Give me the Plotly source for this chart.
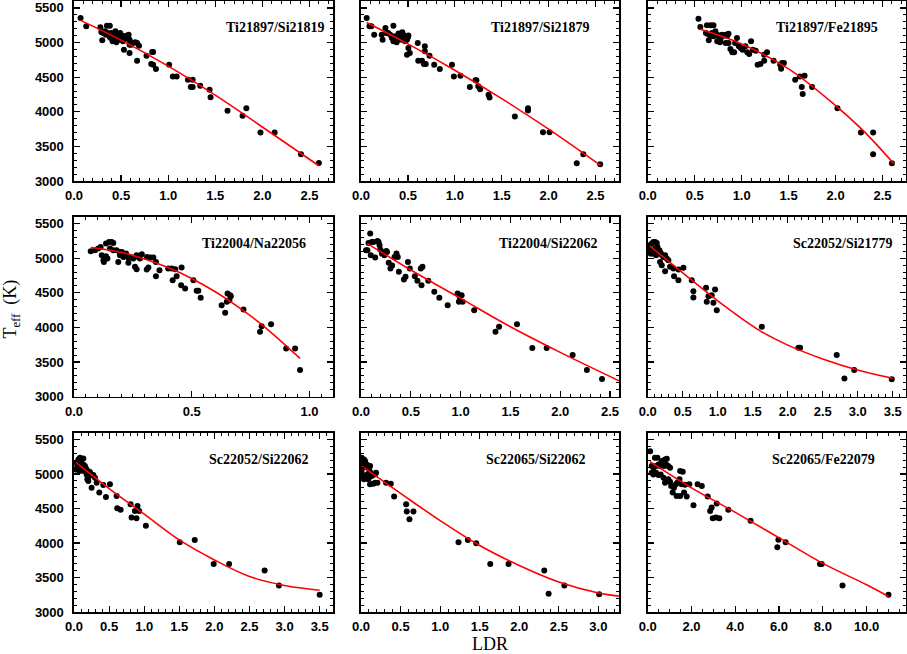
import plotly.graph_objects as go

# ---------------- data ----------------
labels = ["Ti21897/Si21819", "Ti21897/Si21879", "Ti21897/Fe21895",
          "Ti22004/Na22056", "Ti22004/Si22062", "Sc22052/Si21779",
          "Sc22052/Si22062", "Sc22065/Si22062", "Sc22065/Fe22079"]

ldr_1 = [0.07, 0.13, 0.28, 0.29, 0.30, 0.31, 0.33, 0.34, 0.35, 0.36, 0.38, 0.38, 0.39, 0.40, 0.41, 0.43, 0.44, 0.45, 0.45, 0.46,
         0.47, 0.48, 0.49, 0.51, 0.52, 0.52, 0.53, 0.54, 0.56, 0.57, 0.58, 0.59, 0.59, 0.60, 0.61, 0.59, 0.65, 0.67, 0.69, 0.67,
         0.77, 0.83, 0.84, 0.82, 0.84, 0.87, 1.01, 1.05, 1.09, 1.21, 1.24, 1.26, 1.26, 1.34, 1.44, 1.45, 1.63, 1.79, 1.83, 1.98,
         2.13, 2.41, 2.60]
teff_1 = [5355, 5234, 5220, 5152, 5032, 5138, 5162, 5114, 5244, 5138, 5244, 5080, 5065, 5138, 5017, 5099, 5162, 5051, 5003, 5114,
          5080, 5041, 5138, 5065, 5017, 5099, 4897, 5051, 5099, 5080, 5114, 5041, 4848, 5003, 4969, 4969, 5003, 4737, 4955, 4993,
          4810, 4863, 4863, 4689, 4679, 4617, 4679, 4511, 4511, 4462, 4356, 4356, 4462, 4375, 4318, 4211, 4013, 3941, 4052, 3700,
          3700, 3386, 3260]
fit_ldr_1 = [0.07, 0.5, 1.0, 1.5, 2.0, 2.6]
fit_teff_1 = [5320, 5035, 4660, 4240, 3780, 3220]

ldr_2 = [0.06, 0.09, 0.11, 0.14, 0.23, 0.22, 0.26, 0.27, 0.29, 0.31, 0.345, 0.33, 0.36, 0.38, 0.42, 0.43, 0.45, 0.47, 0.49, 0.505,
         0.47, 0.345, 0.38, 0.40, 0.44, 0.50, 0.49, 0.52, 0.505, 0.605, 0.61, 0.65, 0.68, 0.68, 0.67, 0.69, 0.73, 0.78, 0.84, 0.97,
         0.99, 1.06, 1.16, 1.22, 1.23, 1.25, 1.27, 1.36, 1.37, 1.64, 1.78, 1.78, 1.94, 2.01, 2.30, 2.37, 2.55]
teff_2 = [5355, 5234, 5234, 5114, 5041, 5114, 5210, 5138, 5138, 5114, 5244, 5066, 5090, 5042, 5090, 5042, 5114, 5066, 5042, 5100,
          5017, 5017, 5003, 5130, 5150, 5075, 4824, 4848, 4921, 4993, 4737, 4737, 4945, 4873, 4689, 4689, 4810, 4679, 4617, 4679,
          4511, 4520, 4356, 4457, 4457, 4370, 4327, 4245, 4206, 3931, 4052, 4018, 3705, 3705, 3256, 3386, 3241]
fit_ldr_2 = [0.06, 0.5, 1.0, 1.5, 2.0, 2.55]
fit_teff_2 = [5290, 4980, 4600, 4190, 3750, 3230]

ldr_3 = [0.54, 0.56, 0.63, 0.67, 0.70, 0.62, 0.64, 0.65, 0.667, 0.685, 0.70, 0.72, 0.74, 0.756, 0.774, 0.79, 0.81, 0.83, 0.845, 0.86,
         0.74, 0.77, 0.83, 0.86, 0.88, 0.90, 0.92, 0.93, 0.95, 0.97, 0.99, 1.01, 1.04, 1.06, 1.08, 1.10, 1.12, 1.15, 1.17, 1.20,
         1.24, 1.24, 1.27, 1.34, 1.41, 1.43, 1.42, 1.45, 1.57, 1.62, 1.67, 1.64, 1.65, 1.75, 2.02, 2.27, 2.40, 2.40, 2.60]
teff_3 = [5345, 5225, 5249, 5249, 5249, 5138, 5123, 5032, 5099, 5138, 5090, 5162, 5114, 5090, 5051, 5114, 5099, 5114, 5099, 5128,
          5017, 5003, 4993, 4993, 4906, 4858, 4858, 4993, 5066, 4945, 4921, 4897, 4945, 4858, 4834, 5017, 4897, 4882, 4679, 4689,
          4737, 4824, 4858, 4737, 4679, 4703, 4622, 4703, 4462, 4511, 4520, 4356, 4255, 4356, 4052, 3700, 3700, 3386, 3256]
fit_ldr_3 = [0.55, 1.0, 1.5, 2.0, 2.3, 2.62]
fit_teff_3 = [5195, 4980, 4620, 4090, 3720, 3250]

ldr_4 = [0.071, 0.089, 0.103, 0.113, 0.118, 0.125, 0.127, 0.136, 0.142, 0.136, 0.149, 0.160, 0.167, 0.153, 0.167, 0.181, 0.195, 0.203, 0.21, 0.195,
         0.21, 0.221, 0.231, 0.245, 0.252, 0.266, 0.28, 0.188, 0.231, 0.259, 0.266, 0.273, 0.288, 0.309, 0.316, 0.31, 0.324, 0.337, 0.348, 0.348,
         0.363, 0.40, 0.415, 0.43, 0.419, 0.436, 0.457, 0.455, 0.472, 0.507, 0.521, 0.528, 0.538, 0.627, 0.642, 0.649, 0.652, 0.663, 0.666, 0.660,
         0.720, 0.790, 0.797, 0.837, 0.901, 0.939, 0.960]
teff_4 = [5101, 5115, 5139, 5163, 5043, 4971, 4947, 5029, 4995, 5212, 5236, 5236, 5221, 5139, 5115, 5115, 5091, 5091, 5067, 5043,
          5019, 5067, 5010, 5010, 4995, 5043, 4995, 4947, 4933, 4875, 4841, 5019, 5058, 4837, 4865, 5019, 5010, 5010, 4947, 4740,
          4827, 4851, 4851, 4841, 4683, 4740, 4865, 4610, 4563, 4683, 4529, 4529, 4428, 4322, 4212, 4370, 4490, 4466, 4452, 4394,
          4260, 3938, 4019, 4048, 3697, 3697, 3385]
fit_ldr_4 = [0.071, 0.2, 0.3, 0.4, 0.5, 0.6, 0.7, 0.8, 0.96]
fit_teff_4 = [5155, 5085, 4990, 4865, 4707, 4515, 4290, 4035, 3553]

ldr_5 = [0.092, 0.064, 0.05, 0.075, 0.108, 0.125, 0.098, 0.142, 0.166, 0.176, 0.186, 0.193, 0.22, 0.244, 0.254, 0.21, 0.234, 0.261, 0.278, 0.295,
         0.312, 0.336, 0.356, 0.369, 0.38, 0.43, 0.447, 0.471, 0.49, 0.54, 0.566, 0.60, 0.617, 0.607, 0.675, 0.736, 0.786, 0.87, 0.97, 0.99,
         1.01, 0.983, 1.02, 1.136, 1.35, 1.386, 1.566, 1.72, 1.864, 2.125, 2.268, 2.42]
teff_5 = [5356, 5115, 5115, 5221, 5236, 5236, 5043, 5010, 5250, 5236, 5188, 5125, 5091, 5077, 5106, 5067, 5043, 5091, 4933, 4851,
          4894, 5019, 5067, 5019, 4803, 4692, 4731, 4947, 4851, 4740, 4673, 4851, 4875, 4611, 4673, 4514, 4428, 4322, 4490, 4442,
          4466, 4370, 4370, 4250, 3938, 4010, 4048, 3702, 3702, 3601, 3385, 3255]
fit_ldr_5 = [0.06, 0.5, 1.0, 1.5, 2.0, 2.59]
fit_teff_5 = [5215, 4830, 4420, 4010, 3640, 3230]

ldr_6 = [0.033, 0.057, 0.081, 0.105, 0.129, 0.071, 0.105, 0.138, 0.167, 0.186, 0.205, 0.224, 0.248, 0.271, 0.295, 0.119, 0.152, 0.024, 0.043, 0.09,
         0.176, 0.2, 0.248, 0.319, 0.367, 0.376, 0.438, 0.438, 0.51, 0.629, 0.652, 0.652, 0.833, 0.843, 0.867, 0.914, 0.938, 0.962, 0.986, 1.63,
         2.152, 2.176, 2.70, 2.81, 2.95, 3.486]
teff_6 = [5115, 5212, 5236, 5236, 5221, 5067, 5139, 5163, 5115, 5077, 5043, 5019, 5043, 4995, 4971, 5043, 5067, 5188, 5067, 5115,
          4947, 4899, 4813, 4875, 4851, 4740, 4837, 4683, 4861, 4683, 4524, 4433, 4572, 4370, 4452, 4466, 4356, 4548, 4250, 4010,
          3707, 3707, 3601, 3264, 3385, 3250]
fit_ldr_6 = [0.03, 0.5, 1.0, 1.6, 2.0, 2.5, 3.0, 3.5]
fit_teff_6 = [5175, 4790, 4385, 3955, 3745, 3545, 3385, 3265]

ldr_7 = [0.038, 0.062, 0.085, 0.109, 0.133, 0.028, 0.047, 0.076, 0.1, 0.133, 0.156, 0.171, 0.19, 0.204, 0.227, 0.251, 0.275, 0.299, 0.076, 0.109,
         0.142, 0.18, 0.218, 0.19, 0.204, 0.251, 0.322, 0.36, 0.417, 0.455, 0.512, 0.607, 0.616, 0.664, 0.806, 0.82, 0.867, 0.89, 0.905, 0.929,
         1.024, 1.507, 1.72, 1.99, 2.21, 2.716, 2.92, 3.50]
teff_7 = [5163, 5212, 5236, 5212, 5226, 5067, 5115, 5091, 5139, 5139, 5115, 5082, 5053, 5019, 5029, 4995, 4986, 4947, 5043, 5053,
          5043, 4995, 4971, 4923, 4899, 4803, 4875, 4731, 4841, 4668, 4851, 4683, 4505, 4481, 4563, 4370, 4466, 4361, 4538, 4466,
          4250, 4010, 4043, 3697, 3697, 3601, 3385, 3250]
fit_ldr_7 = [0.03, 0.5, 1.0, 1.5, 2.0, 2.5, 3.0, 3.5]
fit_teff_7 = [5165, 4790, 4420, 4045, 3755, 3515, 3385, 3315]

ldr_8 = [0.008, 0.021, 0.038, 0.051, 0.008, 0.03, 0.051, 0.072, 0.093, 0.114, 0.008, 0.021, 0.038, 0.063, 0.08, 0.105, 0.122, 0.135, 0.093, 0.177,
         0.19, 0.177, 0.114, 0.156, 0.207, 0.316, 0.376, 0.418, 0.57, 0.578, 0.612, 0.662, 1.232, 1.35, 1.456, 1.633, 1.865, 2.316, 2.371, 2.57,
         3.01]
teff_8 = [5236, 5188, 5212, 5188, 5115, 5091, 5115, 5139, 5101, 5115, 5019, 4971, 4923, 4947, 4995, 5053, 5019, 4971, 4923, 4995,
          5019, 4875, 4851, 4861, 4875, 4875, 4861, 4673, 4563, 4457, 4346, 4457, 4010, 4043, 3995, 3697, 3697, 3601, 3264, 3385,
          3256]
fit_ldr_8 = [0.01, 0.5, 1.0, 1.5, 2.0, 2.5, 3.0, 3.26]
fit_teff_8 = [5115, 4720, 4325, 3965, 3675, 3435, 3275, 3230]

ldr_9 = [0.11, 0.33, 0.44, 0.64, 0.79, 0.87, 0.18, 0.26, 0.38, 0.49, 0.56, 0.68, 0.75, 0.84, 0.94, 1.02, 0.18, 0.26, 0.38, 0.49,
         0.59, 0.72, 0.79, 0.87, 0.94, 1.02, 1.07, 1.14, 1.20, 1.29, 1.35, 1.45, 1.32, 1.48, 1.48, 1.60, 1.55, 1.70, 1.66, 1.78,
         1.90, 2.09, 2.28, 2.47, 2.74, 2.85, 2.92, 2.97, 3.12, 3.27, 3.15, 3.68, 4.70, 5.92, 5.97, 6.30, 7.87, 7.95, 8.90, 11.0]
teff_9 = [5332, 5236, 5236, 5188, 5212, 5221, 5115, 5091, 5115, 5139, 5115, 5149, 5115, 5139, 5115, 5091, 5019, 4995, 5019, 4986,
          4995, 4947, 4875, 4899, 4923, 4889, 4827, 4731, 4803, 4851, 4875, 4923, 4683, 4683, 5043, 5034, 4851, 4846, 4731, 4673,
          4851, 4548, 4851, 4827, 4673, 4466, 4514, 4361, 4370, 4361, 4572, 4481, 4322, 3938, 4048, 4010, 3697, 3697, 3385, 3250]
fit_ldr_9 = [0.1, 2.0, 4.0, 6.0, 8.0, 10.0, 11.0]
fit_teff_9 = [5180, 4800, 4445, 4075, 3705, 3395, 3225]

ldr_sets = [ldr_1, ldr_2, ldr_3, ldr_4, ldr_5, ldr_6, ldr_7, ldr_8, ldr_9]
teff_sets = [teff_1, teff_2, teff_3, teff_4, teff_5, teff_6, teff_7, teff_8, teff_9]
fit_ldr_sets = [fit_ldr_1, fit_ldr_2, fit_ldr_3, fit_ldr_4, fit_ldr_5, fit_ldr_6, fit_ldr_7, fit_ldr_8, fit_ldr_9]
fit_teff_sets = [fit_teff_1, fit_teff_2, fit_teff_3, fit_teff_4, fit_teff_5, fit_teff_6, fit_teff_7, fit_teff_8, fit_teff_9]

x_ranges = [[0, 2.75], [0, 2.75], [0, 2.75], [0, 1.1], [0, 2.59], [0, 3.69], [0, 3.69], [0, 3.26], [0, 11.8]]
x_dticks = [0.5, 0.5, 0.5, 0.5, 0.5, 0.5, 0.5, 0.5, 2.0]
x_minor = [0.1, 0.1, 0.1, 0.05, 0.1, 0.1, 0.1, 0.1, 0.5]
label_x = [0.977, 0.895, 0.899, 0.903, 0.926, 0.957, 0.915, 0.881, 0.887]

# ---------------- layout geometry ----------------
col_domains = [[0.0, 0.3113], [0.345, 0.655], [0.6896, 1.0]]
row_domains = [[0.7054, 1.0], [0.3524, 0.647], [0.0, 0.2935]]

tick_font = dict(family="Liberation Sans, Arial, sans-serif", size=13, color="black", weight="bold")

fig = go.Figure()
layout_axes = {}
annotations = []
for i in range(9):
    n = i + 1
    sfx = "" if n == 1 else str(n)
    xa, ya = "x" + sfx, "y" + sfx
    r, c = divmod(i, 3)
    fig.add_trace(go.Scatter(x=ldr_sets[i], y=teff_sets[i], mode="markers",
                             marker=dict(color="black", size=6, line=dict(width=0)),
                             xaxis=xa, yaxis=ya, showlegend=False, hoverinfo="skip"))
    fig.add_trace(go.Scatter(x=fit_ldr_sets[i], y=fit_teff_sets[i], mode="lines",
                             line=dict(color="#ff0000", width=1.6, shape="spline", smoothing=1.0),
                             xaxis=xa, yaxis=ya, showlegend=False, hoverinfo="skip"))
    layout_axes["xaxis" + sfx] = dict(
        domain=col_domains[c], anchor=ya, range=x_ranges[i], automargin=False,
        tick0=0, dtick=x_dticks[i], tickformat=".1f",
        showline=True, linecolor="black", linewidth=1.6, mirror="allticks",
        ticks="inside", ticklen=6, tickwidth=1.2, tickcolor="black",
        minor=dict(ticks="inside", ticklen=3, tickwidth=1, tickcolor="black", dtick=x_minor[i], tick0=0),
        showgrid=False, zeroline=False, tickfont=tick_font, ticklabelstandoff=2)
    layout_axes["yaxis" + sfx] = dict(
        domain=row_domains[r], anchor=xa, range=[3000, 5600], automargin=False,
        tick0=3000, dtick=500,
        showline=True, linecolor="black", linewidth=1.6, mirror="allticks",
        ticks="inside", ticklen=6, tickwidth=1.2, tickcolor="black",
        minor=dict(ticks="inside", ticklen=3, tickwidth=1, tickcolor="black", dtick=100, tick0=3000),
        showgrid=False, zeroline=False, tickfont=tick_font,
        showticklabels=(c == 0), ticklabelstandoff=6)
    annotations.append(dict(text=labels[i], xref=xa + " domain", yref=ya + " domain",
                            x=label_x[i], y=0.852, xanchor="right", yanchor="middle",
                            showarrow=False,
                            font=dict(family="Liberation Serif, Times New Roman, serif", size=14,
                                      color="black", weight="bold")))

annotations.append(dict(text="LDR", xref="paper", yref="paper", x=0.5, y=-0.052,
                        xanchor="center", yanchor="middle", showarrow=False,
                        font=dict(family="Liberation Serif, Times New Roman, serif", size=18, color="black")))
annotations.append(dict(text="T<sub>eff</sub>  (K)", xref="paper", yref="paper", x=-0.0745, y=0.495,
                        xanchor="center", yanchor="middle", showarrow=False, textangle=-90,
                        font=dict(family="Liberation Serif, Times New Roman, serif", size=18, color="black")))

fig.update_layout(width=907, height=654,
                  margin=dict(l=74, r=1, t=1, b=42, autoexpand=False),
                  paper_bgcolor="white", plot_bgcolor="white",
                  annotations=annotations, **layout_axes)

fig.write_html("out.html", config={"displayModeBar": False, "staticPlot": True},
               post_script="document.body.style.margin='0';document.body.style.overflow='hidden';")
